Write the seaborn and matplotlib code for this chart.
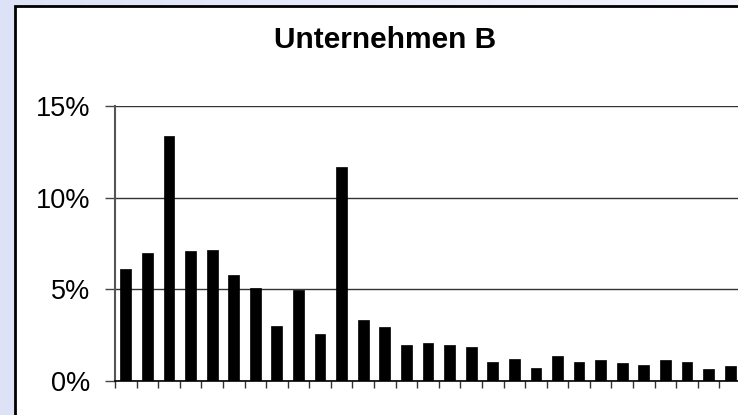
import numpy as np
import pandas as pd
import matplotlib
matplotlib.use("Agg")
import matplotlib.pyplot as plt
from matplotlib.patches import Rectangle
from matplotlib.ticker import FixedLocator, FuncFormatter
import seaborn as sns

# share per category (percent)
categories = [str(i) for i in range(1, 30)]
shares = [6.1, 7.0, 13.35, 7.07, 7.14, 5.8, 5.09, 3.02, 4.95, 2.54,
          11.67, 3.33, 2.93, 1.99, 2.07, 1.99, 1.85, 1.03, 1.18, 0.71,
          1.36, 1.05, 1.14, 0.97, 0.88, 1.14, 1.05, 0.64, 0.81]
title = "Unternehmen B"
y_ticks = [0, 5, 10, 15]

df = pd.DataFrame({"cat": categories, "share": shares})

sns.set_style("white")
plt.rcParams["font.family"] = ["Liberation Sans", "DejaVu Sans"]
plt.rcParams["text.color"] = "black"
plt.rcParams["ytick.labelcolor"] = "black"

fig = plt.figure(figsize=(7.38, 4.15), dpi=100)

# lavender background gradient
bg = fig.add_axes([0, 0, 1, 1], zorder=-10)
grad = np.linspace(0, 1, 256).reshape(1, -1)
bg.imshow(grad, aspect="auto", extent=[0, 1, 0, 1],
          cmap=matplotlib.colors.LinearSegmentedColormap.from_list("bg", ["#dde2f7", "#f3f4fd"]))
bg.set_axis_off()

# white chart box
fig.patches.append(Rectangle((15 / 738, -0.1), 1.2, 1 - 6 / 415 + 0.1,
                             transform=fig.transFigure, facecolor="white",
                             edgecolor="black", linewidth=2, zorder=-5))

ax = fig.add_axes([115 / 738, 1 - 381 / 415, (741 - 115) / 738, (381 - 106) / 415])
ax.set_facecolor("none")
sns.barplot(data=df, x="cat", y="share", color="black", width=0.5,
            saturation=1, edgecolor="black", linewidth=0.5, ax=ax, zorder=3)
ax.set_xlim(-0.5, len(categories) - 0.5)
ax.set_ylim(0, 15)
ax.set_yticks(y_ticks)
ax.yaxis.set_major_formatter(FuncFormatter(lambda v, p: f"{v:.0f}%"))
ax.tick_params(axis="y", direction="out", length=7.2, width=1, color="#444444",
               labelsize=19.5, labelcolor="black", pad=10.5, left=True)
ax.xaxis.set_major_locator(FixedLocator(np.arange(-0.5, len(categories), 1)))
ax.set_xticklabels([])
ax.tick_params(axis="x", direction="out", length=5, width=1, color="#333333", bottom=True)
ax.grid(axis="y", color="#333333", linewidth=1)
ax.set_axisbelow(True)
ax.set_xlabel("")
ax.set_ylabel("")
for s in ["top", "right"]:
    ax.spines[s].set_visible(False)
ax.spines["left"].set_color("#555555")
ax.spines["left"].set_linewidth(1.5)
ax.spines["bottom"].set_color("black")
ax.spines["bottom"].set_linewidth(1.2)

fig.text(385 / 738, 1 - 48 / 415, title, ha="center", va="baseline",
         fontsize=21.5, fontweight="bold", color="black")

fig.savefig("out.png", dpi=100)
